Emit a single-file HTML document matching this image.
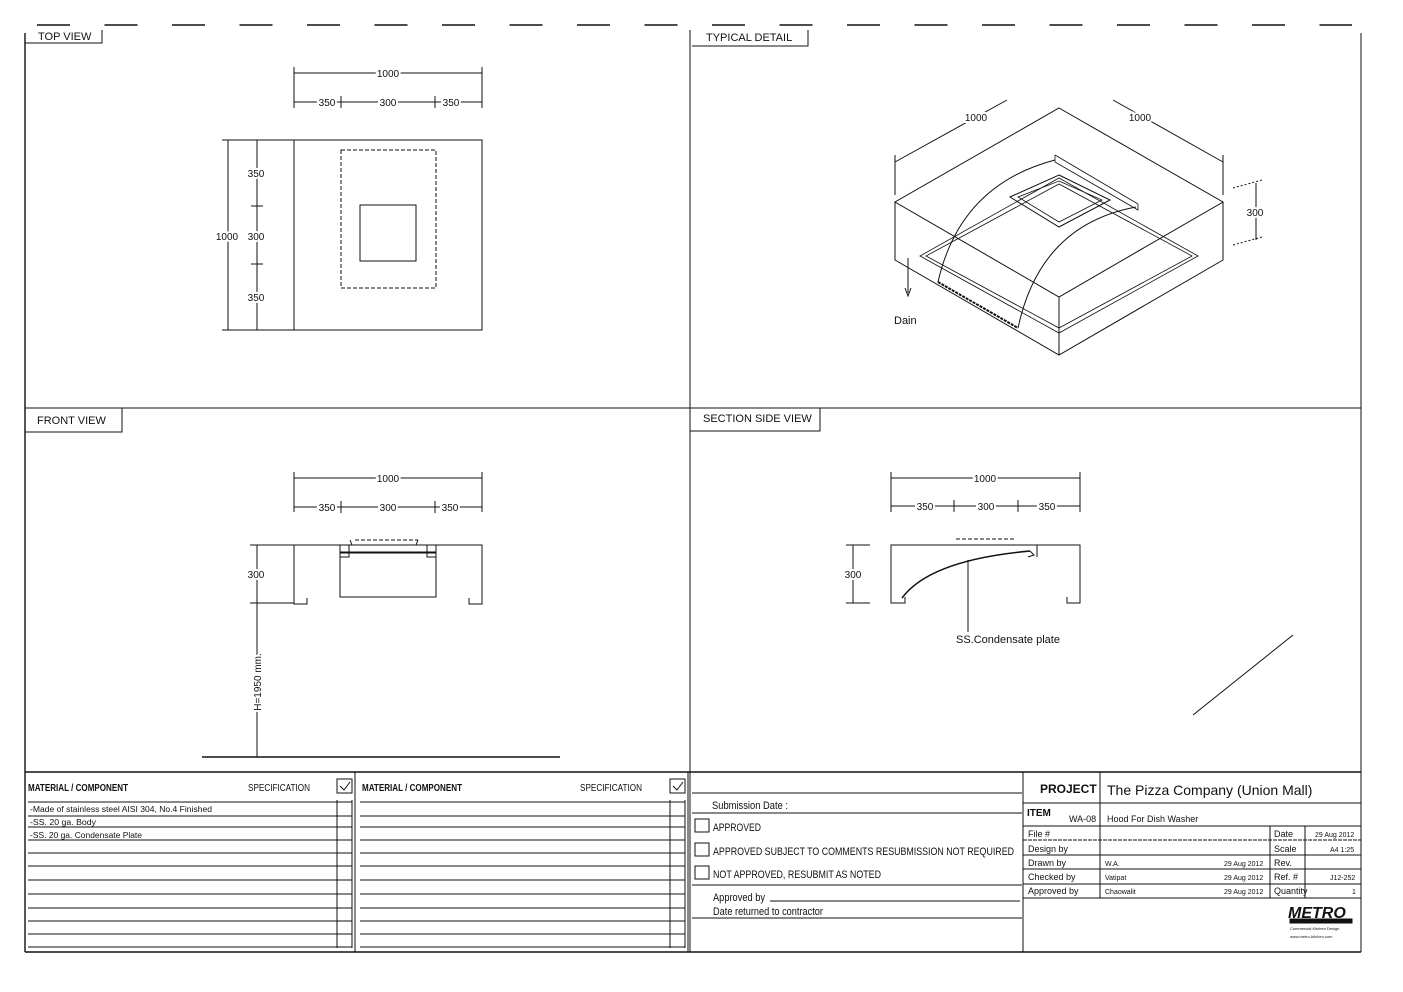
<!DOCTYPE html>
<html><head><meta charset="utf-8"><style>
html,body{margin:0;padding:0;background:#fff;}
svg{display:block;}
text{font-family:"Liberation Sans",sans-serif;fill:#111;}
.n{font-size:10px;}
</style></head><body>
<svg width="1403" height="992" viewBox="0 0 1403 992" xmlns="http://www.w3.org/2000/svg">
<g stroke="#111" fill="none" stroke-width="1">
<line x1="37" y1="25" x2="1352" y2="25" stroke-width="1.6" stroke-dasharray="33 34.5"/>
<line x1="25" y1="33" x2="25" y2="952" stroke-width="1.4"/>
<line x1="1361" y1="33" x2="1361" y2="952"/>
<line x1="25" y1="952" x2="1361" y2="952" stroke-width="1.4"/>
<line x1="690" y1="30" x2="690" y2="952"/>
<line x1="25" y1="408" x2="1361" y2="408"/>
<line x1="25" y1="772" x2="1361" y2="772" stroke-width="1.4"/>
<polyline points="25,43 102,43 102,30"/>
<polyline points="692,46 808,46 808,30"/>
<polyline points="25,432 122,432 122,408"/>
<polyline points="690,431 820,431 820,408"/>

<rect x="294" y="140" width="188" height="190"/>
<rect x="341" y="150" width="95" height="138" stroke-dasharray="4 2"/>
<rect x="360" y="205" width="56" height="56"/>
<line x1="294" y1="73" x2="482" y2="73"/><line x1="294" y1="67" x2="294" y2="108"/><line x1="482" y1="67" x2="482" y2="108"/>
<line x1="294" y1="102" x2="482" y2="102"/><line x1="341" y1="96" x2="341" y2="108"/><line x1="435" y1="96" x2="435" y2="108"/>
<line x1="228" y1="140" x2="228" y2="330"/><line x1="222" y1="140" x2="294" y2="140"/><line x1="222" y1="330" x2="294" y2="330"/>
<line x1="257" y1="140" x2="257" y2="330"/><line x1="251" y1="206" x2="263" y2="206"/><line x1="251" y1="264" x2="263" y2="264"/>

<polygon points="1059,108 1223,202 1059,297 895,202"/>
<polyline points="895,202 895,260 1059,355 1223,260 1223,202"/>
<line x1="1059" y1="297" x2="1059" y2="355"/>
<polygon points="920,256 1059,333 1198,256 1059,178" stroke-width="0.8"/>
<polygon points="926,256 1059,328 1192,256 1059,184" stroke-width="0.8"/>
<polygon points="1059,175 1110,200 1059,227 1010,197"/>
<polygon points="1059,181 1102,200 1059,222 1018,197" stroke-width="0.8"/>
<polyline points="1055,155 1138,204 1138,210 1055,162 1055,155" stroke-width="0.8"/>
<path d="M938,282 Q960,185 1055,160"/>
<path d="M1018,328 Q1040,225 1136,207"/>
<line x1="938" y1="282" x2="1018" y2="328" stroke-width="2" stroke-dasharray="3 1"/>
<line x1="895" y1="162" x2="1007" y2="100"/><line x1="895" y1="155" x2="895" y2="195"/>
<line x1="1113" y1="100" x2="1223" y2="162"/><line x1="1223" y1="155" x2="1223" y2="195"/>
<line x1="1256" y1="183" x2="1256" y2="240"/><line x1="1233" y1="188" x2="1262" y2="180" stroke-dasharray="2 2"/><line x1="1233" y1="245" x2="1262" y2="237" stroke-dasharray="2 2"/>
<line x1="908" y1="258" x2="908" y2="293"/><polyline points="905,288 908,296 911,288"/>

<line x1="294" y1="478" x2="482" y2="478"/><line x1="294" y1="472" x2="294" y2="512"/><line x1="482" y1="472" x2="482" y2="512"/>
<line x1="294" y1="507" x2="482" y2="507"/><line x1="341" y1="501" x2="341" y2="513"/><line x1="435" y1="501" x2="435" y2="513"/>
<line x1="257" y1="545" x2="257" y2="603"/><line x1="250" y1="545" x2="294" y2="545"/><line x1="250" y1="603" x2="294" y2="603"/>
<line x1="257" y1="603" x2="257" y2="757"/>
<line x1="202" y1="757" x2="560" y2="757" stroke-width="1.4"/>
<polyline points="307,598 307,604 294,604 294,545 482,545 482,604 469,604 469,598"/>
<rect x="340" y="553" width="96" height="44"/>
<rect x="340" y="545" width="9" height="12"/><rect x="427" y="545" width="9" height="12"/>
<line x1="340" y1="552" x2="436" y2="552"/>
<line x1="355" y1="540" x2="418" y2="540" stroke-dasharray="4 2"/>
<line x1="350" y1="540" x2="352" y2="545"/><line x1="418" y1="540" x2="416" y2="545"/>

<line x1="891" y1="478" x2="1080" y2="478"/><line x1="891" y1="472" x2="891" y2="512"/><line x1="1080" y1="472" x2="1080" y2="512"/>
<line x1="891" y1="506" x2="1080" y2="506"/><line x1="954" y1="500" x2="954" y2="512"/><line x1="1018" y1="500" x2="1018" y2="512"/>
<line x1="853" y1="545" x2="853" y2="603"/><line x1="846" y1="545" x2="870" y2="545"/><line x1="846" y1="603" x2="870" y2="603"/>
<polyline points="905,597 905,603 891,603 891,545 1080,545 1080,603 1067,603 1067,597"/>
<path d="M902,598 Q930,560 1030,551" stroke-width="1.5"/>
<polyline points="1030,551 1034,555 1028,557"/>
<line x1="1037" y1="545" x2="1037" y2="557"/>
<line x1="956" y1="539" x2="1015" y2="539" stroke-dasharray="4 2"/>
<line x1="968" y1="560" x2="968" y2="632"/>
<line x1="1193" y1="715" x2="1293" y2="635"/>

<g stroke-width="1">
<line x1="355" y1="772" x2="355" y2="952"/>
<line x1="688" y1="772" x2="688" y2="952"/>
<rect x="337" y="779" width="15" height="14"/><polyline points="340,786 344,790 350,782"/>
<rect x="670" y="779" width="15" height="14"/><polyline points="673,786 677,790 683,782"/>
<line x1="337" y1="800" x2="337" y2="948"/><line x1="352" y1="800" x2="352" y2="948"/>
<line x1="670" y1="800" x2="670" y2="948"/><line x1="685" y1="800" x2="685" y2="948"/>
</g>
<g stroke-width="1.1">
<path d="M28,802H352M28,816H352M28,827H352M28,840H352M28,853H352M28,866H352M28,880H352M28,894H352M28,908H352M28,921H352M28,934H352M28,947H352"/>
<path d="M360,802H685M360,816H685M360,827H685M360,840H685M360,853H685M360,866H685M360,880H685M360,894H685M360,908H685M360,921H685M360,934H685M360,947H685"/>
</g>
<line x1="692" y1="793" x2="1022" y2="793"/>
<line x1="692" y1="813" x2="1022" y2="813"/>
<line x1="692" y1="885" x2="1022" y2="885"/>
<line x1="692" y1="918" x2="1022" y2="918"/>
<line x1="770" y1="901" x2="1020" y2="901"/>
<rect x="695" y="819" width="14" height="13"/>
<rect x="695" y="843" width="14" height="13"/>
<rect x="695" y="866" width="14" height="13"/>
<line x1="1023" y1="772" x2="1023" y2="952"/>
<line x1="1100" y1="772" x2="1100" y2="898"/>
<line x1="1023" y1="803" x2="1361" y2="803"/>
<line x1="1023" y1="826" x2="1361" y2="826"/>
<line x1="1023" y1="840" x2="1361" y2="840" stroke-dasharray="4 1"/>
<line x1="1023" y1="855" x2="1361" y2="855"/>
<line x1="1023" y1="869" x2="1361" y2="869"/>
<line x1="1023" y1="884" x2="1361" y2="884"/>
<line x1="1023" y1="898" x2="1361" y2="898"/>
<line x1="1270" y1="826" x2="1270" y2="898"/>
<line x1="1305" y1="826" x2="1305" y2="898"/>
<rect x="1290" y="919" width="62" height="4" fill="#111"/>
</g>

<text x="38" y="40" font-size="11">TOP VIEW</text>
<text x="706" y="41" font-size="11">TYPICAL DETAIL</text>
<text x="37" y="424" font-size="11">FRONT VIEW</text>
<text x="703" y="422" font-size="11">SECTION SIDE VIEW</text>
<g class="n" text-anchor="middle" stroke="#fff" stroke-width="4" style="paint-order:stroke">
<text x="388" y="77">1000</text>
<text x="327" y="106">350</text>
<text x="388" y="106">300</text>
<text x="451" y="106">350</text>
<text x="256" y="177">350</text>
<text x="256" y="240">300</text>
<text x="256" y="301">350</text>
<text x="227" y="240">1000</text>
<text x="976" y="121">1000</text>
<text x="1140" y="121">1000</text>
<text x="1255" y="216">300</text>
<text x="388" y="482">1000</text>
<text x="327" y="511">350</text>
<text x="388" y="511">300</text>
<text x="450" y="511">350</text>
<text x="256" y="578">300</text>
<text transform="translate(261,682) rotate(-90)">H=1950 mm.</text>
<text x="985" y="482">1000</text>
<text x="925" y="510">350</text>
<text x="986" y="510">300</text>
<text x="1047" y="510">350</text>
<text x="853" y="578">300</text>
</g>
<text x="894" y="324" font-size="11">Dain</text>
<text x="956" y="643" font-size="11">SS.Condensate plate</text>
<g font-size="10">
<text x="28" y="791" font-weight="bold" textLength="100" lengthAdjust="spacingAndGlyphs">MATERIAL / COMPONENT</text>
<text x="248" y="791" textLength="62" lengthAdjust="spacingAndGlyphs">SPECIFICATION</text>
<text x="362" y="791" font-weight="bold" textLength="100" lengthAdjust="spacingAndGlyphs">MATERIAL / COMPONENT</text>
<text x="580" y="791" textLength="62" lengthAdjust="spacingAndGlyphs">SPECIFICATION</text>
<text x="30" y="812" font-size="8" textLength="182" lengthAdjust="spacingAndGlyphs">-Made of stainless steel AISI 304, No.4 Finished</text>
<text x="30" y="825" font-size="8" textLength="66" lengthAdjust="spacingAndGlyphs">-SS. 20 ga. Body</text>
<text x="30" y="838" font-size="8" textLength="112" lengthAdjust="spacingAndGlyphs">-SS. 20 ga. Condensate Plate</text>
<text x="712" y="809" font-size="11" textLength="76" lengthAdjust="spacingAndGlyphs">Submission Date :</text>
<text x="713" y="831" font-size="11" textLength="48" lengthAdjust="spacingAndGlyphs">APPROVED</text>
<text x="713" y="855" font-size="11" textLength="301" lengthAdjust="spacingAndGlyphs">APPROVED SUBJECT TO COMMENTS RESUBMISSION NOT REQUIRED</text>
<text x="713" y="878" font-size="11" textLength="168" lengthAdjust="spacingAndGlyphs">NOT APPROVED, RESUBMIT AS NOTED</text>
<text x="713" y="901" font-size="11" textLength="52" lengthAdjust="spacingAndGlyphs">Approved by</text>
<text x="713" y="915" font-size="11" textLength="110" lengthAdjust="spacingAndGlyphs">Date returned to contractor</text>
</g>
<text x="1040" y="793" font-size="12" font-weight="bold">PROJECT</text>
<text x="1107" y="795" font-size="14" font-family="Liberation Mono,monospace">The Pizza Company (Union Mall)</text>
<text x="1027" y="816" font-size="10" font-weight="bold">ITEM</text>
<text x="1069" y="822" font-size="9">WA-08</text>
<text x="1107" y="822" font-size="9">Hood For Dish Washer</text>
<g font-size="9">
<text x="1028" y="837">File #</text><text x="1274" y="837">Date</text><text x="1315" y="837" font-size="7">29 Aug 2012</text>
<text x="1028" y="852">Design by</text><text x="1274" y="852">Scale</text><text x="1330" y="852" font-size="7">A4 1:25</text>
<text x="1028" y="866">Drawn by</text><text x="1105" y="866" font-size="7">W.A.</text><text x="1224" y="866" font-size="7">29 Aug 2012</text><text x="1274" y="866">Rev.</text>
<text x="1028" y="880">Checked by</text><text x="1105" y="880" font-size="7">Vatipat</text><text x="1224" y="880" font-size="7">29 Aug 2012</text><text x="1274" y="880">Ref. #</text><text x="1330" y="880" font-size="7">J12-252</text>
<text x="1028" y="894">Approved by</text><text x="1105" y="894" font-size="7">Chaowalit</text><text x="1224" y="894" font-size="7">29 Aug 2012</text><text x="1274" y="894">Quantity</text><text x="1352" y="894" font-size="7">1</text>
</g>
<text x="1288" y="918" font-size="16" font-weight="bold" font-style="italic">METRO</text>
<text x="1290" y="930" font-size="4">Commercial Kitchen Design</text>
<text x="1290" y="938" font-size="4">www.metro-kitchen.com</text>
</svg>
</body></html>
